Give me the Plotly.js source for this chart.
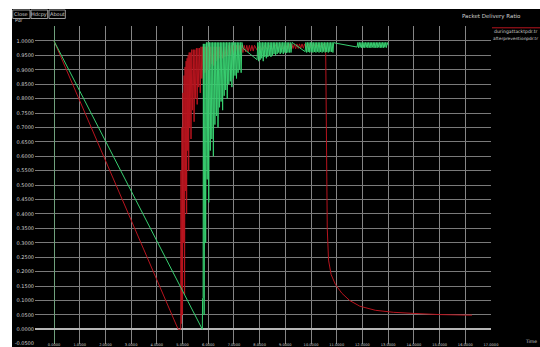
<!DOCTYPE html>
<html>
<head>
<meta charset="utf-8">
<script src="https://cdn.plot.ly/plotly-3.0.1.min.js"></script>
<style>
html,body{margin:0;padding:0;background:#ffffff;overflow:hidden;width:540px;height:347px;}
#chart{position:absolute;left:12px;top:9px;width:528px;height:338px;}
</style>
</head>
<body>
<div id="chart"></div>
<script>
// Series: during attack (red)
const redTime = [0,4.83,4.93,4.94,4.96,4.98,5.00,5.02,5.04,5.06,5.08,5.10,5.12,5.14,5.16,5.18,5.20,5.22,5.24,5.26,5.28,5.30,5.33,5.36,5.39,5.42,5.45,5.48,5.51,5.54,5.57,5.60,5.63,5.66,5.69,5.72,5.75,5.78,5.81,5.84,5.87,5.90,5.93,5.96,5.99,6.02,6.06,6.10,6.14,6.18,6.22,6.26,6.30,6.34,6.38,6.42,6.46,6.50,6.55,6.60,6.65,6.70,6.75,6.80,6.85,6.90,6.95,7.00,7.05,7.10,7.15,7.20,7.25,7.30,7.35,7.40,7.45,7.50,7.55,7.60,7.65,7.70,7.75,7.80,7.90,8.00,8.10,8.20,8.30,8.40,8.50,8.60,8.70,8.80,8.90,9.00,9.10,9.15,9.20,9.25,9.30,9.35,9.40,9.45,9.50,9.55,9.60,9.65,9.70,9.75,9.80,9.90,10.00,10.10,10.20,10.30,10.40,10.50,10.57,10.60,10.63,10.68,10.78,10.95,11.20,11.50,11.90,12.50,13.20,14.00,15.00,16.26];
const redPdr  = [1.0,0.0,0.0,0.55,0.02,0.70,0.05,0.82,0.30,0.88,0.12,0.91,0.48,0.93,0.40,0.94,0.62,0.95,0.55,0.96,0.70,0.96,0.66,0.97,0.76,0.97,0.72,0.97,0.80,0.975,0.78,0.975,0.84,0.975,0.82,0.98,0.87,0.98,0.85,0.98,0.89,0.98,0.88,0.98,0.90,0.98,0.91,0.98,0.92,0.98,0.915,0.98,0.93,0.98,0.935,0.98,0.94,0.98,0.94,0.98,0.945,0.98,0.95,0.985,0.95,0.985,0.955,0.985,0.955,0.985,0.958,0.985,0.96,0.985,0.96,0.985,0.962,0.985,0.962,0.985,0.965,0.985,0.965,0.985,0.968,0.985,0.968,0.985,0.97,0.985,0.97,0.988,0.97,0.988,0.972,0.988,0.972,0.99,0.972,0.99,0.974,0.99,0.973,0.99,0.974,0.99,0.975,0.99,0.975,0.99,0.976,0.99,0.976,0.99,0.977,0.99,0.978,0.99,0.96,0.60,0.35,0.24,0.19,0.155,0.125,0.10,0.08,0.066,0.059,0.055,0.051,0.049];

// Series: after prevention (green)
const greenTime = [0,5.77,5.78,5.80,5.81,5.84,5.87,5.90,5.93,5.96,5.99,6.02,6.05,6.08,6.11,6.14,6.17,6.20,6.23,6.26,6.29,6.32,6.35,6.38,6.41,6.44,6.47,6.50,6.53,6.56,6.59,6.62,6.65,6.68,6.71,6.74,6.77,6.80,6.83,6.86,6.89,6.92,6.95,6.98,7.01,7.04,7.07,7.10,7.13,7.16,7.19,7.22,7.25,7.28,7.31,7.35,7.90,7.93,7.96,7.99,8.02,8.05,8.08,8.11,8.14,8.17,8.20,8.23,8.26,8.29,8.32,8.35,8.38,8.41,8.44,8.47,8.50,8.53,8.56,8.59,8.62,8.65,8.68,8.71,8.74,8.77,8.80,8.83,8.86,8.89,8.92,8.95,8.98,9.01,9.04,9.07,9.10,9.13,9.16,9.19,9.22,9.26,9.31,9.77,9.80,9.83,9.86,9.89,9.92,9.95,9.98,10.01,10.04,10.07,10.10,10.13,10.16,10.19,10.22,10.25,10.28,10.31,10.34,10.37,10.40,10.43,10.46,10.49,10.52,10.55,10.58,10.61,10.64,10.67,10.70,10.73,10.76,10.79,10.82,10.85,10.88,10.93,11.79,11.82,11.85,11.88,11.91,11.94,11.97,12.00,12.03,12.06,12.09,12.12,12.15,12.18,12.21,12.24,12.27,12.30,12.33,12.36,12.39,12.42,12.45,12.48,12.51,12.54,12.57,12.60,12.63,12.66,12.69,12.72,12.75,12.78,12.81,12.84,12.87,12.90,12.93,12.96,13.00];
const greenPdr  = [1.0,0.0,0.108,0.11,0.99,0.05,0.99,0.30,0.995,0.52,0.995,0.44,0.995,0.62,0.995,0.66,0.995,0.60,0.995,0.71,0.995,0.74,0.995,0.70,0.995,0.77,0.995,0.79,0.995,0.76,0.995,0.81,0.995,0.83,0.995,0.80,0.995,0.85,0.995,0.86,0.995,0.84,0.995,0.87,0.995,0.88,0.995,0.87,0.995,0.89,0.995,0.90,0.995,0.89,0.995,0.975,0.935,0.995,0.93,0.995,0.935,0.995,0.94,0.995,0.93,0.995,0.945,0.995,0.94,0.995,0.945,0.995,0.95,0.995,0.945,0.995,0.95,0.995,0.955,0.995,0.95,0.995,0.955,0.995,0.96,0.995,0.955,0.995,0.96,0.995,0.955,0.995,0.96,0.995,0.958,0.995,0.96,0.995,0.96,0.995,0.96,0.995,0.992,0.963,0.995,0.96,0.995,0.962,0.995,0.96,0.995,0.963,0.995,0.96,0.995,0.962,0.995,0.96,0.995,0.963,0.995,0.96,0.995,0.962,0.995,0.96,0.995,0.963,0.995,0.96,0.995,0.962,0.995,0.96,0.995,0.963,0.995,0.962,0.995,0.96,0.995,0.993,0.979,0.995,0.976,0.995,0.978,0.995,0.976,0.995,0.977,0.995,0.976,0.995,0.978,0.995,0.976,0.995,0.977,0.995,0.976,0.995,0.978,0.995,0.976,0.995,0.977,0.995,0.976,0.995,0.978,0.995,0.976,0.995,0.977,0.995,0.976,0.995,0.978,0.995,0.977,0.995,0.985];

// Axis ticks
const yTickVals = [-0.05,0,0.05,0.1,0.15,0.2,0.25,0.3,0.35,0.4,0.45,0.5,0.55,0.6,0.65,0.7,0.75,0.8,0.85,0.9,0.95,1.0];
const yTickText = ["-0.0500","0.0000","0.0500","0.1000","0.1500","0.2000","0.2500","0.3000","0.3500","0.4000","0.4500","0.5000","0.5500","0.6000","0.6500","0.7000","0.7500","0.8000","0.8500","0.9000","0.9500","1.0000"];
const xTickVals = [0,1,2,3,4,5,6,7,8,9,10,11,12,13,14,15,16,17];
const xTickText = ["0.0000","1.0000","2.0000","3.0000","4.0000","5.0000","6.0000","7.0000","8.0000","9.0000","10.0000","11.0000","12.0000","13.0000","14.0000","15.0000","16.0000","17.0000"];

const legendNames = ["duringattacktpdr.tr","afterpreventionpdr.tr"];
const titleText = "Packet Delivery Ratio";
const buttonLabels = ["Close","Hdcpy","About"];

const RED = '#b8141e', GREEN = '#38cf70';
const FONT = 'DejaVu Sans';
const TXT = '#cfcfcf';

const traces = [
  {x: redTime, y: redPdr, type: 'scatter', mode: 'lines', line: {color: RED, width: 1}, name: legendNames[0]},
  {x: greenTime, y: greenPdr, type: 'scatter', mode: 'lines', line: {color: GREEN, width: 1}, name: legendNames[1]}
];

// paper helpers (page pixel -> paper)
const px = v => (v - 35) / 456;
const py = v => (344 - v) / 318;

const shapes = [];
const annotations = [];
const btnX = [[12.7,30],[31,47.7],[49,65.3]];
btnX.forEach((b, i) => {
  shapes.push({type: 'rect', xref: 'paper', yref: 'paper', x0: px(b[0]), x1: px(b[1]), y0: py(18.5), y1: py(10),
    line: {color: '#9a9a9a', width: 1}, fillcolor: '#000000'});
  annotations.push({xref: 'paper', yref: 'paper', x: px((b[0] + b[1]) / 2), y: py(14.3), text: buttonLabels[i],
    showarrow: false, xanchor: 'center', yanchor: 'middle', font: {family: FONT, size: 5, color: TXT}});
});
shapes.push({type: 'line', xref: 'paper', yref: 'paper', x0: px(492), x1: px(541), y0: py(27.8), y1: py(27.8),
  line: {color: RED, width: 1}});
annotations.push({xref: 'paper', yref: 'paper', x: px(491), y: py(16.5), text: titleText, showarrow: false,
  xanchor: 'center', yanchor: 'middle', font: {family: FONT, size: 5.5, color: TXT}});
annotations.push({xref: 'paper', yref: 'paper', x: px(492), y: py(31), text: legendNames[0], showarrow: false,
  xanchor: 'left', yanchor: 'middle', font: {family: FONT, size: 4.6, color: TXT}});
annotations.push({xref: 'paper', yref: 'paper', x: px(491), y: py(38.5), text: legendNames[1], showarrow: false,
  xanchor: 'left', yanchor: 'middle', font: {family: FONT, size: 4.3, color: TXT}});
annotations.push({xref: 'paper', yref: 'paper', x: px(13), y: py(20.5), text: 'Pdr', showarrow: false,
  xanchor: 'left', yanchor: 'middle', font: {family: FONT, size: 4.5, color: TXT}});
annotations.push({xref: 'paper', yref: 'paper', x: px(539), y: py(341.5), text: 'Time', showarrow: false,
  xanchor: 'right', yanchor: 'middle', font: {family: FONT, size: 4.5, color: TXT}});

const layout = {
  width: 528, height: 338,
  margin: {l: 23, r: 49, t: 17, b: 3, pad: 0},
  paper_bgcolor: '#000000', plot_bgcolor: '#000000',
  showlegend: false,
  xaxis: {range: [-0.739, 17.0], tickvals: xTickVals, ticktext: xTickText, showgrid: true,
    gridcolor: '#858585', gridwidth: 1, zeroline: true, zerolinecolor: '#6fa07c', zerolinewidth: 1,
    showline: false, ticks: '', ticklabelstandoff: -3, tickfont: {family: FONT, size: 3.6, color: TXT}, fixedrange: true},
  yaxis: {range: [-0.051, 1.052], tickvals: yTickVals, ticktext: yTickText, showgrid: true,
    gridcolor: '#7a7a7a', gridwidth: 1, zeroline: true, zerolinecolor: '#b5b5b5', zerolinewidth: 2,
    showline: false, ticks: '', tickfont: {family: FONT, size: 5, color: TXT}, fixedrange: true},
  shapes: shapes,
  annotations: annotations
};

Plotly.newPlot('chart', traces, layout, {displayModeBar: false, staticPlot: true});
</script>
</body>
</html>
